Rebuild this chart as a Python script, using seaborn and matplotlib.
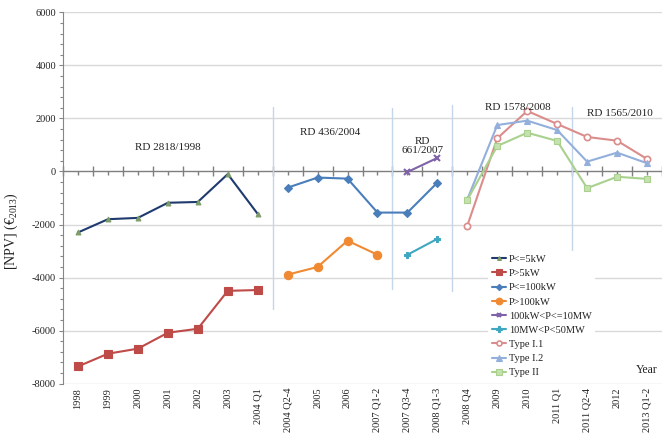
import numpy as np
import pandas as pd
import matplotlib
matplotlib.use("Agg")
import matplotlib.pyplot as plt
from matplotlib.ticker import MultipleLocator, FixedLocator, NullFormatter
import seaborn as sns

# Periods on the horizontal axis
periods = ["1998", "1999", "2000", "2001", "2002", "2003", "2004 Q1",
           "2004 Q2-4", "2005", "2006", "2007 Q1-2", "2007 Q3-4", "2008 Q1-3",
           "2008 Q4", "2009", "2010", "2011 Q1", "2011 Q2-4", "2012", "2013 Q1-2"]

# Net present value per installation class (EUR 2013); None where the class did not exist
p_le_5kw = [-2300, -1800, -1750, -1180, -1150, -100, -1600] + [None] * 13
p_gt_5kw = [-7350, -6870, -6680, -6080, -5930, -4500, -4470] + [None] * 13
p_le_100kw = [None] * 7 + [-610, -230, -270, -1550, -1550, -420] + [None] * 7
p_gt_100kw = [None] * 7 + [-3890, -3600, -2610, -3140] + [None] * 9
p_100kw_10mw = [None] * 11 + [-20, 510] + [None] * 7
p_10mw_50mw = [None] * 11 + [-3140, -2540] + [None] * 7
type_i1 = [None] * 13 + [-2040, 1250, 2280, 1790, 1300, 1160, 470]
type_i2 = [None] * 13 + [-1050, 1750, 1915, 1560, 370, 710, 310]
type_ii = [None] * 13 + [-1070, 960, 1460, 1150, -630, -200, -280]

series_names = ["P<=5kW", "P>5kW", "P<=100kW", "P>100kW", "100kW<P<=10MW",
                "10MW<P<50MW", "Type I.1", "Type I.2", "Type II"]
series_values = [p_le_5kw, p_gt_5kw, p_le_100kw, p_gt_100kw, p_100kw_10mw,
                 p_10mw_50mw, type_i1, type_i2, type_ii]

# Regulatory periods: label text, anchor period index, NPV level of the label
decree_labels = ["RD 2818/1998", "RD 436/2004", "RD\n661/2007", "RD 1578/2008", "RD 1565/2010"]
decree_x = [3.0, 8.43, 11.5, 14.67, 18.1]
decree_y = [920, 1450, 955, 2430, 2170]

rows = []
for name, vals in zip(series_names, series_values):
    for i, v in enumerate(vals):
        if v is not None:
            rows.append({"series": name, "pos": i, "npv": v})
df = pd.DataFrame(rows)

styles = {
    "P<=5kW":        dict(color="#1F3A6E", marker="^", ms=3.5, mfc="#7E9C6A", mec="#7E9C6A", lw=1.5),
    "P>5kW":         dict(color="#BE4B48", marker="s", ms=6, mfc="#BE4B48", mec="#BE4B48", lw=1.5),
    "P<=100kW":      dict(color="#4A7EBB", marker="D", ms=4, mfc="#4A7EBB", mec="#4A7EBB", lw=1.5),
    "P>100kW":       dict(color="#F08A32", marker="o", ms=6, mfc="#F08A32", mec="#F08A32", lw=1.5),
    "100kW<P<=10MW": dict(color="#7F62A8", marker="x", ms=4, mfc="#7F62A8", mec="#7F62A8", lw=1.5, mew=1.5),
    "10MW<P<50MW":   dict(color="#3FA7C0", marker="P", ms=5, mfc="#3FA7C0", mec="#3FA7C0", lw=1.5),
    "Type I.1":      dict(color="#DA8D8B", marker="o", ms=4.5, mfc="white", mec="#DA8D8B", lw=1.5, mew=1.2),
    "Type I.2":      dict(color="#93AFDB", marker="^", ms=5, mfc="#93AFDB", mec="#93AFDB", lw=1.5),
    "Type II":       dict(color="#A9D18E", marker="s", ms=5, mfc="#C7E0B0", mec="#A9D18E", lw=1.5),
}

sns.set_theme(style="white")
plt.rcParams["font.family"] = ["Liberation Serif", "DejaVu Serif"]
plt.rcParams["mathtext.fontset"] = "custom"
plt.rcParams["mathtext.rm"] = "Liberation Serif"
plt.rcParams["mathtext.it"] = "Liberation Serif:italic"

fig = plt.figure(figsize=(6.62, 4.33), dpi=100)
ax_left, ax_bottom, ax_width, ax_height = 0.0952, 0.1139, 0.9048, 0.8577

ymin, ymax = -8000, 6000
zero_frac = (0 - ymin) / (ymax - ymin)

# zero line carrying the category tick marks: a flat axes sitting at NPV = 0,
# drawn underneath the data axes
zax = fig.add_axes([ax_left, ax_bottom + ax_height * zero_frac, ax_width, 1e-6],
                   facecolor="none")
zax.set_zorder(-1)

ax = fig.add_axes([ax_left, ax_bottom, ax_width, ax_height])
ax.set_facecolor("none")
ax.set_ylim(ymin, ymax)
ax.set_xlim(-0.5, len(periods) - 0.5)

zax.set_xlim(ax.get_xlim())
for side in ["top", "right", "left"]:
    zax.spines[side].set_visible(False)
zax.spines["bottom"].set_color("#7F7F7F")
zax.spines["bottom"].set_linewidth(1.0)
zax.set_yticks([])
zax.xaxis.set_major_locator(FixedLocator(np.arange(-0.5, len(periods), 1.0)))
zax.xaxis.set_minor_locator(FixedLocator(np.arange(0, len(periods), 1.0)))
zax.xaxis.set_major_formatter(NullFormatter())
zax.xaxis.set_minor_formatter(NullFormatter())
zax.tick_params(axis="x", which="major", direction="inout", length=7, width=1.0,
                color="#7F7F7F", bottom=True, top=False)
zax.tick_params(axis="x", which="minor", direction="out", length=3, width=1.0,
                color="#7F7F7F", bottom=True, top=False)

# horizontal gridlines
for yv in range(ymin, ymax + 1, 2000):
    if yv != 0:
        ax.axhline(yv, color="#D9D9D9", lw=1.0, zorder=0)

# vertical separators between regulatory periods
sep_x = [6.5, 10.5, 12.5, 16.5]
sep_top = [2430, 2400, 2500, 2430]
sep_bot = [-5180, -4430, -4500, -3150]
for xs, yt, yb in zip(sep_x, sep_top, sep_bot):
    ax.plot([xs, xs], [yb, yt], color="#C5D5EA", lw=1.0, zorder=0.5)

for name in series_names:
    sub = df[df["series"] == name]
    st = styles[name]
    sns.lineplot(data=sub, x="pos", y="npv", ax=ax, sort=False, label=name,
                 color=st["color"], lw=st["lw"], marker=st["marker"],
                 markersize=st["ms"], markerfacecolor=st["mfc"],
                 markeredgecolor=st["mec"], markeredgewidth=st.get("mew", 0.8),
                 zorder=3)

# period labels along the bottom
ax.set_xticks(range(len(periods)))
ax.set_xticklabels(periods, rotation=90, fontsize=7.5)
ax.tick_params(axis="x", length=0, pad=3, colors="#222222")

ax.yaxis.set_major_locator(MultipleLocator(2000))
ax.yaxis.set_minor_locator(MultipleLocator(400))
ax.tick_params(axis="y", which="major", direction="out", length=3, width=0.8,
               color="#868686", labelsize=7.5, labelcolor="#222222", pad=2, left=True)
ax.tick_params(axis="y", which="minor", direction="out", length=2, width=0.8,
               color="#868686", left=True)
ax.set_yticklabels([f"{int(v)}" for v in ax.get_yticks()])

for side in ["top", "right", "bottom"]:
    ax.spines[side].set_visible(False)
ax.spines["left"].set_color("#868686")
ax.spines["left"].set_linewidth(0.8)

ax.set_xlabel("")
ax.set_ylabel(r"[NPV] (€$_{\mathrm{2013}}$)", fontsize=10, color="#222222")
ax.yaxis.set_label_coords(-0.072, 0.41)

for txt, xv, yv in zip(decree_labels, decree_x, decree_y):
    ax.text(xv, yv, txt, ha="center", va="center", fontsize=8, color="#222222",
            linespacing=1.0, zorder=4)

ax.text(19.0, -7480, "Year", ha="center", va="center", fontsize=8.5, color="#222222")

leg = ax.legend(loc="upper left", bbox_to_anchor=(488 / 662, 1 - 251 / 433),
                bbox_transform=fig.transFigure, borderaxespad=0, frameon=True,
                fancybox=False, fontsize=7.5, handlelength=1.4, handletextpad=0.25,
                labelspacing=0.47, borderpad=0.35, markerscale=0.8)
leg.get_frame().set_edgecolor("none")
leg.get_frame().set_facecolor("white")
leg.get_frame().set_alpha(1.0)
leg.set_zorder(5)
for t in leg.get_texts():
    t.set_color("#222222")

fig.savefig("out.png", dpi=100)
